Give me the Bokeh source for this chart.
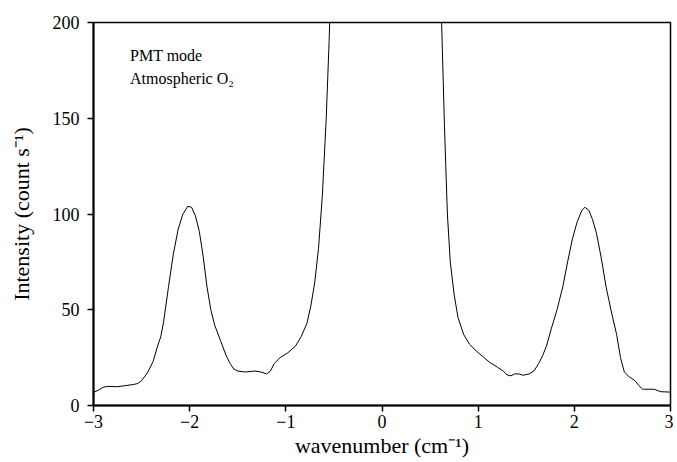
from bokeh.plotting import figure
from bokeh.models import Range1d, FixedTicker, ColumnDataSource
from bokeh.core.properties import value
from bokeh.embed import file_html
from bokeh.resources import INLINE

wavenumber = [-3.0, -2.95, -2.9, -2.85, -2.75, -2.65, -2.58, -2.54, -2.5, -2.44, -2.38, -2.34, -2.3, -2.27,
              -2.22, -2.17, -2.12, -2.07, -2.02, -1.98, -1.94, -1.9, -1.86, -1.82, -1.78, -1.74, -1.68,
              -1.62, -1.58, -1.54, -1.5, -1.42, -1.32, -1.26, -1.2, -1.16, -1.12, -1.06, -0.98, -0.9,
              -0.84, -0.78, -0.74, -0.7, -0.66, -0.62, -0.58, -0.55, -0.52, -0.45, -0.3, 0.0, 0.3, 0.45,
              0.58, 0.62, 0.65, 0.68, 0.71, 0.75, 0.79, 0.85, 0.91, 0.98, 1.05, 1.12, 1.2, 1.26, 1.3, 1.34,
              1.38, 1.42, 1.47, 1.53, 1.58, 1.63, 1.67, 1.71, 1.76, 1.82, 1.88, 1.93, 1.98, 2.03, 2.08,
              2.11, 2.15, 2.19, 2.23, 2.28, 2.33, 2.38, 2.44, 2.48, 2.52, 2.57, 2.63, 2.67, 2.71, 2.77,
              2.83, 2.9, 3.0]
intensity = [6.8, 8, 9.5, 10, 9.8, 10.5, 11, 11.5, 13, 17, 23, 30, 36, 44,
             62, 79, 92, 100, 104, 103.5, 99, 91, 78, 62, 50, 42, 34,
             26, 22, 19, 18, 17.5, 18, 17.5, 16.5, 18, 22, 25, 27.5, 31,
             36, 43, 52, 64, 82, 110, 150, 190, 240, 400, 800, 1200, 800, 400,
             240, 200, 145, 100, 75, 58, 46, 37, 32, 28.5, 25.5, 22.5, 20, 18, 16, 15.5,
             16.5, 16.5, 15.8, 16.5, 18, 22, 26, 31, 40, 50, 62, 75, 87, 96, 102,
             103.5, 102, 97, 90, 77, 62, 50, 37, 25, 17.5, 15, 13, 10.5, 8.5, 8.5,
             8.5, 7.2, 7.0]

x_ticks = [-3, -2, -1, 0, 1, 2, 3]
y_ticks = [0, 50, 100, 150, 200]

notes = ["PMT mode", "Atmospheric O\u2082"]
note_x = [-2.62, -2.62]
note_y = [183, 171]

SERIF = "Liberation Serif"

p = figure(width=673, height=460, output_backend="svg", toolbar_location=None,
           x_range=Range1d(-3, 3), y_range=Range1d(0, 200),
           min_border_left=93, min_border_right=3, min_border_top=22, min_border_bottom=55)
p.background_fill_color = "white"
p.border_fill_color = "white"
p.grid.visible = False
p.outline_line_color = "black"
p.outline_line_width = 1.5

p.line(wavenumber, intensity, line_color="black", line_width=1)

src = ColumnDataSource(dict(x=note_x, y=note_y, t=notes))
p.text(x="x", y="y", text="t", source=src, text_font=value(SERIF),
       text_font_size="16px", text_baseline="middle", text_align="left", text_color="black")

for ax in (p.xaxis[0], p.yaxis[0]):
    ax.axis_line_width = 2
    ax.axis_line_color = "black"
    ax.major_tick_out = 6
    ax.major_tick_in = 0
    ax.minor_tick_out = 0
    ax.minor_tick_in = 0
    ax.major_tick_line_width = 1.5
    ax.major_label_text_font = SERIF
    ax.major_label_text_font_size = "18px"
    ax.major_label_text_color = "black"
    ax.axis_label_text_font = SERIF
    ax.axis_label_text_font_size = "22px"
    ax.axis_label_text_font_style = "normal"
    ax.axis_label_text_color = "black"

p.xaxis[0].ticker = FixedTicker(ticks=x_ticks)
p.yaxis[0].ticker = FixedTicker(ticks=y_ticks)
p.xaxis[0].axis_label = "wavenumber (cm\u207b\u00b9)"
p.yaxis[0].axis_label = "Intensity (count s\u207b\u00b9)"
p.xaxis[0].major_label_standoff = 3
p.xaxis[0].axis_label_standoff = 2
p.yaxis[0].major_label_standoff = 8
p.yaxis[0].axis_label_standoff = 16

open("out.html", "w").write(file_html(p, INLINE))
